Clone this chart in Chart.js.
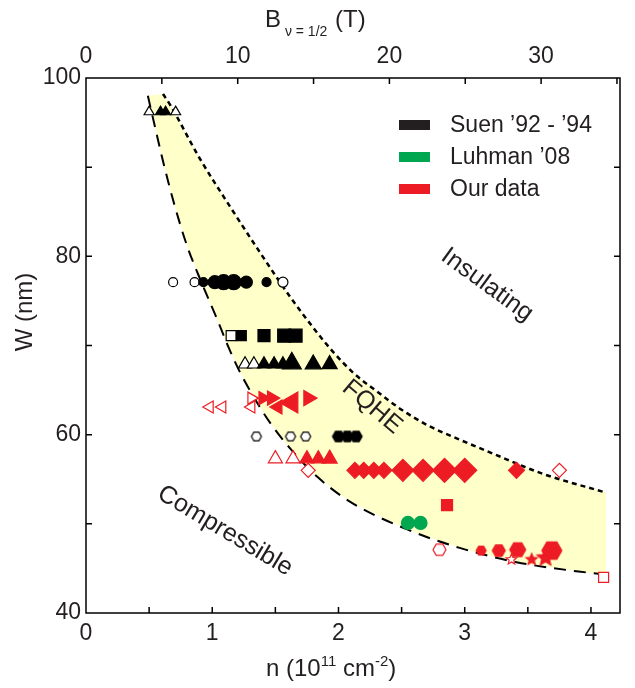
<!DOCTYPE html>
<html lang="en">
<head>
<meta charset="UTF-8">
<title>W vs n phase diagram</title>
<style>
  html, body { margin: 0; padding: 0; background: #fff; }
  #wrap { width: 635px; height: 688px; position: relative; }
</style>
</head>
<body>
<div id="wrap"><canvas id="chart"></canvas></div>
<script src="https://cdn.jsdelivr.net/npm/chart.js@4"></script>
<script>
// ---- axes ----
const nMax = 4.23;           // right edge of the n axis (10^11 cm^-2)
const bMax = 35.2;           // same edge on the B_(nu=1/2) axis (T)
const nTicks = [0, 1, 2, 3, 4];
const nMinor = [0.5, 1, 1.5, 2, 2.5, 3, 3.5, 4];
const bTicks = [0, 10, 20, 30];
const bMinor = [5, 10, 15, 20, 25, 30, 35];
const wTicks = [40, 60, 80, 100];
const wMinor = [50, 60, 70, 80, 90];

// ---- boundaries of the FQHE region ----
const lowerN = [0.49, 0.55, 0.62, 0.70, 0.80, 0.92, 1.04, 1.12, 1.22, 1.33, 1.46, 1.62, 1.83, 2.09, 2.54, 2.96, 3.41, 3.99, 4.12];
const lowerW = [98.0, 94.3, 90.1, 85.8, 81.2, 76.9, 72.9, 70.1, 67.0, 64.2, 61.3, 58.4, 55.3, 52.5, 49.4, 47.3, 45.7, 44.5, 44.3];
const upperN = [0.61, 0.67, 0.90, 1.14, 1.38, 1.62, 1.80, 1.95, 2.12, 2.30, 2.50, 2.70, 2.95, 3.22, 3.62, 4.12];
const upperW = [98.2, 96.9, 91.0, 85.6, 80.4, 75.4, 72.0, 69.4, 66.9, 64.9, 62.8, 61.1, 59.5, 57.9, 55.6, 53.5];

// ---- Suen '92 - '94 (black) ----
const suenTopTriN = [0.50, 0.59, 0.63, 0.71];
const suenTopTriW = [96.2, 96.2, 96.2, 96.2];
const suenTopTriOpen = [1, 0, 0, 1];
const suenTopTriSize = [10, 10, 10, 10];

const suenCircN = [0.69, 0.86, 0.93, 1.02, 1.09, 1.17, 1.27, 1.43, 1.56];
const suenCircW = [77.1, 77.1, 77.1, 77.1, 77.1, 77.1, 77.1, 77.1, 77.1];
const suenCircOpen = [1, 1, 0, 0, 0, 0, 0, 0, 1];
const suenCircSize = [9, 9, 9, 13, 15, 15, 12, 9, 10];

const suenSqN = [1.15, 1.23, 1.41, 1.57, 1.66];
const suenSqW = [71.1, 71.1, 71.1, 71.1, 71.1];
const suenSqOpen = [1, 0, 0, 0, 0];
const suenSqSize = [10, 10, 12, 13, 13];

const suenTriN = [1.26, 1.33, 1.41, 1.49, 1.56, 1.63, 1.80, 1.93];
const suenTriW = [67.9, 67.9, 67.9, 67.9, 67.9, 68.0, 67.9, 67.9];
const suenTriOpen = [1, 1, 0, 0, 0, 0, 0, 0];
const suenTriSize = [13, 13, 13, 13, 13, 19, 16, 15];

const suenHexN = [1.35, 1.62, 1.74, 2.00, 2.07, 2.14];
const suenHexW = [59.8, 59.8, 59.8, 59.8, 59.8, 59.8];
const suenHexOpen = [1, 1, 1, 0, 0, 0];
const suenHexSize = [10, 10, 10, 12, 12, 12];

// ---- Luhman '08 (green) ----
const luhmanN = [2.55, 2.65];
const luhmanW = [50.1, 50.1];
const luhmanOpen = [0, 0];
const luhmanSize = [13, 13];

// ---- Our data (red) ----
const ourRightN = [1.31, 1.40, 1.47, 1.76];
const ourRightW = [64.1, 64.1, 64.1, 64.1];
const ourRightOpen = [1, 0, 0, 0];
const ourRightSize = [12, 13, 14, 15];

const ourLeftN = [0.98, 1.08, 1.31, 1.52, 1.63];
const ourLeftW = [63.1, 63.1, 63.1, 63.1, 63.6];
const ourLeftOpen = [1, 1, 1, 0, 0];
const ourLeftSize = [12, 12, 12, 14, 21];

const ourTriN = [1.50, 1.64, 1.75, 1.84, 1.93];
const ourTriW = [57.3, 57.3, 57.3, 57.3, 57.3];
const ourTriOpen = [1, 1, 0, 0, 0];
const ourTriSize = [14, 14, 14, 14, 15];

const ourDiamN = [1.76, 2.13, 2.20, 2.28, 2.36, 2.51, 2.67, 2.84, 3.00, 3.41, 3.75];
const ourDiamW = [56.0, 56.0, 56.0, 56.0, 56.0, 56.0, 56.0, 56.0, 56.0, 56.0, 56.0];
const ourDiamOpen = [1, 0, 0, 0, 0, 0, 0, 0, 0, 0, 1];
const ourDiamSize = [14, 16, 16, 16, 16, 22, 22, 24, 24, 16, 14];

const ourSqN = [2.86, 4.10];
const ourSqW = [52.1, 44.0];
const ourSqOpen = [0, 1];
const ourSqSize = [11, 10];

const ourHexN = [2.80, 3.13, 3.27, 3.42, 3.69];
const ourHexW = [47.1, 47.0, 47.0, 47.1, 47.0];
const ourHexOpen = [1, 0, 0, 0, 0];
const ourHexSize = [13, 10, 13, 16, 20];

const ourStarN = [3.37, 3.53, 3.64];
const ourStarW = [46.0, 46.0, 46.2];
const ourStarOpen = [1, 0, 0];
const ourStarSize = [11, 12, 18];

const BLACK = '#000000';
const GREEN = '#00a650';
const RED = '#ed1c24';
const TEXT = '#231f20';
const FONT = 'Arial, "Liberation Sans", sans-serif';

// custom marker shapes (hexagon, star) as small canvases
const shapeCache = {};
function shapeImage(kind, size, color, open) {
  const key = kind + size + color + open;
  if (shapeCache[key]) return shapeCache[key];
  const c = document.createElement('canvas');
  c.width = c.height = Math.ceil(size) + 4;
  const g = c.getContext('2d');
  const cx = c.width / 2, r = size / 2;
  g.beginPath();
  if (kind === 'hex') {
    for (let k = 0; k < 6; k++) {
      const a = Math.PI / 3 * k;
      g.lineTo(cx + r * Math.cos(a), cx + r * Math.sin(a));
    }
  } else {
    for (let k = 0; k < 10; k++) {
      const a = -Math.PI / 2 + Math.PI / 5 * k;
      const rr = k % 2 ? r * 0.45 : r;
      g.lineTo(cx + rr * Math.cos(a), cx + rr * Math.sin(a));
    }
  }
  g.closePath();
  g.fillStyle = open ? '#fff' : color;
  g.fill();
  g.lineWidth = 1.2;
  g.strokeStyle = color;
  g.stroke();
  shapeCache[key] = c;
  return c;
}

function radiusFor(kind, w) {
  if (kind === 'triangle') return w / Math.sqrt(3);
  if (kind === 'rect') return w / Math.SQRT2;
  return w / 2;
}

function markers(nVals, wVals, kind, color, sizes, open, rotation) {
  const custom = kind === 'hex' || kind === 'star';
  return {
    data: nVals.map((n, i) => ({ x: n, y: wVals[i] })),
    showLine: false,
    order: 1,
    pointStyle: custom ? sizes.map((s, i) => shapeImage(kind, s, color, open[i])) : kind,
    pointRadius: sizes.map(s => radiusFor(kind, s)),
    pointRotation: rotation || 0,
    pointBackgroundColor: open.map(o => o ? '#fff' : color),
    pointBorderColor: color,
    pointBorderWidth: 1.2
  };
}

const toPts = (xs, ys) => xs.map((x, i) => ({ x: x, y: ys[i] }));

const datasets = [
  // yellow FQHE band
  {
    data: toPts(lowerN.concat(upperN.slice().reverse()), lowerW.concat(upperW.slice().reverse())),
    showLine: true, fill: 'shape', tension: 0,
    backgroundColor: '#ffffc9', borderColor: 'rgba(0,0,0,0)', borderWidth: 0,
    pointRadius: 0, order: 10
  },
  {
    data: toPts(lowerN, lowerW), showLine: true, fill: false,
    cubicInterpolationMode: 'monotone', borderColor: BLACK, borderWidth: 2,
    borderDash: [12, 8], pointRadius: 0, order: 5
  },
  {
    data: toPts(upperN, upperW), showLine: true, fill: false,
    cubicInterpolationMode: 'monotone', borderColor: BLACK, borderWidth: 2.5,
    borderDash: [5, 4], pointRadius: 0, order: 5
  },
  markers(suenTopTriN, suenTopTriW, 'triangle', BLACK, suenTopTriSize, suenTopTriOpen),
  markers(suenCircN, suenCircW, 'circle', BLACK, suenCircSize, suenCircOpen),
  markers(suenSqN, suenSqW, 'rect', BLACK, suenSqSize, suenSqOpen),
  markers(suenTriN, suenTriW, 'triangle', BLACK, suenTriSize, suenTriOpen),
  markers(suenHexN, suenHexW, 'hex', BLACK, suenHexSize, suenHexOpen),
  markers(luhmanN, luhmanW, 'circle', GREEN, luhmanSize, luhmanOpen),
  markers(ourRightN, ourRightW, 'triangle', RED, ourRightSize, ourRightOpen, 90),
  markers(ourLeftN, ourLeftW, 'triangle', RED, ourLeftSize, ourLeftOpen, -90),
  markers(ourTriN, ourTriW, 'triangle', RED, ourTriSize, ourTriOpen),
  markers(ourDiamN, ourDiamW, 'rectRot', RED, ourDiamSize, ourDiamOpen),
  markers(ourSqN, ourSqW, 'rect', RED, ourSqSize, ourSqOpen),
  markers(ourHexN, ourHexW, 'hex', RED, ourHexSize, ourHexOpen),
  markers(ourStarN, ourStarW, 'star', RED, ourStarSize, ourStarOpen)
];

const legendItems = [
  { text: 'Suen \u201992 - \u201994', color: '#231f20' },
  { text: 'Luhman \u201908', color: GREEN },
  { text: 'Our data', color: RED }
];

// text with sub/superscripts: parts = [[text, size, dy]]
function drawParts(ctx, parts, x, y) {
  let cx = x;
  for (const [t, size, dy] of parts) {
    ctx.font = size + 'px ' + FONT;
    ctx.fillText(t, cx, y + dy);
    cx += ctx.measureText(t).width;
  }
}

const decor = {
  id: 'decor',
  afterDraw(chart) {
    const { ctx, chartArea: a, scales } = chart;
    const x = scales.x, xb = scales.xB, y = scales.y;
    ctx.save();
    ctx.strokeStyle = '#000';
    ctx.lineWidth = 1.5;
    ctx.strokeRect(a.left, a.top, a.right - a.left, a.bottom - a.top);
    const tl = 6;
    ctx.beginPath();
    nMinor.forEach(v => { const p = x.getPixelForValue(v); ctx.moveTo(p, a.bottom); ctx.lineTo(p, a.bottom - tl); });
    bMinor.forEach(v => { const p = xb.getPixelForValue(v); ctx.moveTo(p, a.top); ctx.lineTo(p, a.top + tl); });
    wMinor.forEach(v => {
      const p = y.getPixelForValue(v);
      ctx.moveTo(a.left, p); ctx.lineTo(a.left + tl, p);
      ctx.moveTo(a.right, p); ctx.lineTo(a.right - tl, p);
    });
    ctx.stroke();

    ctx.fillStyle = TEXT;
    ctx.textBaseline = 'alphabetic';
    ctx.textAlign = 'left';
    // axis titles
    drawParts(ctx, [['B', 24, 0], [' \u03bd = 1/2  ', 14, 9], ['(T)', 24, 0]], 265, 27);
    drawParts(ctx, [['n (10', 24, 0], ['11', 15, -10], [' cm', 24, 0], ['-2', 15, -10], [')', 24, 0]], 266, 676);
    ctx.save();
    ctx.translate(32, 312);
    ctx.rotate(-Math.PI / 2);
    ctx.textAlign = 'center';
    ctx.font = '24px ' + FONT;
    ctx.fillText('W (nm)', 0, 0);
    ctx.restore();

    // legend
    ctx.font = '23px ' + FONT;
    ctx.textBaseline = 'middle';
    legendItems.forEach((it, i) => {
      const cy = 125 + i * 32;
      ctx.fillStyle = it.color;
      ctx.fillRect(399, cy - 5, 31, 10);
      ctx.fillStyle = TEXT;
      ctx.fillText(it.text, 450, cy + 1);
    });

    // region labels
    const label = (t, cx, cy, deg) => {
      ctx.save();
      ctx.translate(cx, cy);
      ctx.rotate(deg * Math.PI / 180);
      ctx.textAlign = 'center';
      ctx.textBaseline = 'middle';
      ctx.font = '25px ' + FONT;
      ctx.fillStyle = TEXT;
      ctx.fillText(t, 0, 0);
      ctx.restore();
    };
    label('Insulating', 487, 285, 36);
    label('FQHE', 372, 407, 40);
    label('Compressible', 225, 531, 31);
    ctx.restore();
  }
};

const tickFont = { family: FONT, size: 23 };
const setTicks = arr => s => { s.ticks = arr.map(v => ({ value: v })); };

new Chart(document.getElementById('chart'), {
  type: 'scatter',
  data: { datasets: datasets },
  options: {
    responsive: true,
    maintainAspectRatio: false,
    animation: false,
    events: [],
    layout: { padding: { right: 15 } },
    plugins: { legend: { display: false }, tooltip: { enabled: false } },
    scales: {
      x: {
        type: 'linear', position: 'bottom', min: 0, max: nMax,
        grid: { display: false, drawTicks: false }, border: { display: false },
        ticks: { color: TEXT, font: tickFont, padding: 7, maxRotation: 0, autoSkip: false },
        afterBuildTicks: setTicks(nTicks),
        afterFit: s => { s.height = 75; }
      },
      xB: {
        type: 'linear', position: 'top', min: 0, max: bMax,
        grid: { display: false, drawTicks: false }, border: { display: false },
        ticks: { color: TEXT, font: tickFont, padding: 8, maxRotation: 0, autoSkip: false },
        afterBuildTicks: setTicks(bTicks),
        afterFit: s => { s.height = 78; }
      },
      y: {
        type: 'linear', position: 'left', min: 40, max: 100,
        grid: { display: false, drawTicks: false }, border: { display: false },
        ticks: { color: TEXT, font: tickFont, padding: 5, autoSkip: false },
        afterBuildTicks: setTicks(wTicks),
        afterFit: s => { s.width = 86; }
      }
    }
  },
  plugins: [decor]
});
</script>
</body>
</html>
